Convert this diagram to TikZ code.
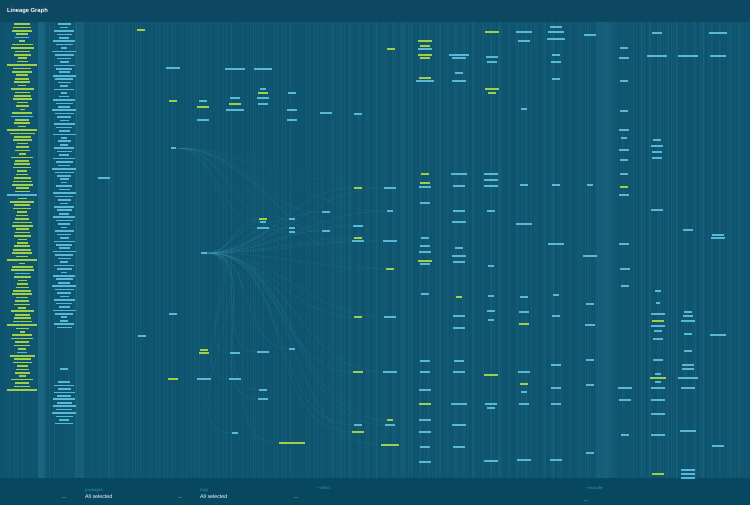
\documentclass[tikz,border=0pt]{standalone}
\usepackage{fontspec}
\setmainfont{Liberation Sans}
\usetikzlibrary{positioning}
\definecolor{hdrbg}{RGB}{12,72,97}
\definecolor{graphbg}{RGB}{15,84,110}
\definecolor{footbg}{RGB}{8,71,96}
\definecolor{barc}{RGB}{88,184,216}
\definecolor{barg}{RGB}{160,206,70}
\definecolor{streakc}{RGB}{70,170,200}
\definecolor{dimtext}{RGB}{45,150,180}
\pgfdeclarelayer{bg}
\pgfsetlayers{bg,main}

\begin{document}
\begin{tikzpicture}[x=1pt, y=-1pt,
    bar/.style={rectangle, inner sep=0pt, minimum height=1.6pt},
    edge/.style={draw=streakc, line width=0.4pt, opacity=0.18},
    streak/.style={draw=streakc, line width=0.45pt},
    title/.style={font=\fontsize{5.8}{7}\selectfont\bfseries, text=white, anchor=west, inner sep=0pt},
    fltlabel/.style={font=\fontsize{4.2}{5}\selectfont, text=dimtext, inner sep=0pt},
    fltvalue/.style={font=\fontsize{5.3}{6}\selectfont, text=white, anchor=west, inner sep=0pt},
    caret/.style={draw=dimtext, line width=0.5pt, opacity=0.6}
]
    \useasboundingbox (0,0) rectangle (750,505);

    \node[title] (ttl) at (7,11) {Lineage Graph};

    % left columns (sources)
    \foreach \i in {0,...,107} {
        \pgfmathsetmacro\py{24+3.42*\i}
        \pgfmathtruncatemacro\pw{5+mod(\i*37+11,13)+2*mod(\i*7,5)}
        \pgfmathtruncatemacro\pr{mod(\i,23)}
        \pgfmathtruncatemacro\pq{mod(\i,19)}
        \ifnum\pq=12 \def\pw{30}\fi
        \ifnum\pr=4 \def\pc{c}\else\def\pc{g}\fi
        \node[bar, fill=bar\pc, minimum width=\pw pt] (a\i) at (22,\py) {};
    }
    \foreach \i in {0,...,88} {
        \pgfmathsetmacro\py{24+3.45*\i}
        \pgfmathtruncatemacro\pw{8+mod(\i*29+5,17)}
        \pgfmathtruncatemacro\pr{mod(\i,13)}
        \ifnum\pr=7 \def\pw{6}\fi
        \node[bar, fill=barc, minimum width=\pw pt] (b\i) at (64,\py) {};
    }
    \node[bar, fill=barc, minimum width=8pt] (b89) at (64,369) {};
    \foreach \i in {0,...,12} {
        \pgfmathsetmacro\py{382+3.45*\i}
        \pgfmathtruncatemacro\pw{10+mod(\i*23+2,15)}
        \node[bar, fill=barc, minimum width=\pw pt] (c\i) at (64,\py) {};
    }

    \node[bar, fill=barc, minimum width=6pt] (hub) at (204,253) {};
    \node[bar, fill=barc, minimum width=5pt] (src) at (173,148) {};

    % upper models
    \foreach \px/\py/\pw/\pc [count=\k] in {
        141/30/8/g, 173/68/14/c, 173/101/8/g, 104/178/12/c,
        203/101/8/c, 203/107/12/g, 203/120/12/c,
        235/69/20/c, 235/98/10/c, 235/104/12/g, 235/110/18/c,
        263/69/18/c, 263/89/6/c, 263/93/10/g, 263/98/12/c, 263/104/10/c,
        292/93/8/c, 292/110/10/c, 292/120/10/c, 326/113/12/c, 358/114/8/c,
        391/49/8/g,
        425/41/14/g, 425/46/10/g, 425/49/14/c, 425/55/14/g, 425/58/10/g, 425/78/12/g, 425/81/18/c,
        459/55/20/c, 459/58/14/c, 459/73/8/c, 459/81/14/c,
        492/32/14/g, 492/57/12/c, 492/62/10/c, 492/89/14/g, 492/93/8/g,
        524/32/16/c, 524/41/12/c, 524/109/6/c,
        556/27/12/c, 556/32/16/c, 556/39/18/c, 556/55/8/c, 556/62/10/c, 556/79/8/c,
        590/35/12/c,
        624/48/8/c, 624/58/10/c, 624/81/8/c, 624/111/8/c, 624/130/10/c, 624/138/6/c,
        624/150/10/c, 624/160/8/c, 624/174/8/c, 624/187/8/g, 624/195/10/c,
        657/33/10/c, 657/56/20/c, 657/140/8/c, 657/146/12/c, 657/152/10/c, 657/158/10/c, 657/210/12/c,
        688/56/20/c, 718/33/18/c, 718/56/16/c, 718/235/12/c, 718/238/14/c}
        \node[bar, fill=bar\pc, minimum width=\pw pt] (u\k) at (\px,\py) {};

    % children of hub
    \foreach \px/\py/\pw/\pc [count=\k] in {
        263/219/8/g, 263/222/6/c, 263/228/12/c, 292/219/6/c, 292/228/6/c, 292/232/6/c,
        326/212/8/c, 326/231/8/c,
        358/188/8/g, 358/226/10/c, 358/238/8/g, 358/241/12/c,
        390/188/12/c, 390/211/6/c, 390/241/14/c, 390/269/8/g,
        263/352/12/c, 263/390/8/c, 263/399/10/c, 292/349/6/c, 292/443/26/g,
        358/317/8/g, 358/372/10/g, 358/425/8/c, 358/432/12/g,
        390/317/12/c, 390/372/14/c, 390/420/6/g, 390/425/10/c, 390/445/18/g,
        235/353/10/c, 235/379/12/c, 235/433/6/c}
        \node[bar, fill=bar\pc, minimum width=\pw pt] (f\k) at (\px,\py) {};

    % lower and right models
    \foreach \px/\py/\pw/\pc [count=\k] in {
        142/336/8/c, 173/314/8/c, 173/379/10/g, 204/350/8/g, 204/353/10/g, 204/379/14/c,
        425/174/8/g, 425/183/10/g, 425/187/12/c, 425/203/10/c, 425/238/8/c, 425/246/10/c,
        425/252/12/c, 425/261/14/g, 425/264/10/c, 425/294/8/c,
        459/174/16/c, 459/186/12/c, 459/211/12/c, 459/222/14/c, 459/248/8/c, 459/256/14/c,
        459/262/12/c, 459/297/6/g, 459/316/12/c, 459/328/12/c,
        491/174/14/c, 491/180/14/c, 491/186/14/c, 491/211/8/c, 491/266/6/c, 491/296/6/c,
        491/311/8/c, 491/320/6/c,
        524/185/8/c, 524/224/16/c, 524/297/8/c, 524/312/10/c, 524/324/10/g,
        556/185/8/c, 556/244/16/c, 556/295/6/c, 556/316/8/c,
        590/185/6/c, 590/256/14/c, 590/304/8/c, 590/325/10/c,
        624/244/10/c, 625/269/10/c, 625/286/8/c, 688/230/10/c,
        425/361/10/c, 425/372/10/c, 425/390/12/c, 425/404/12/g, 425/420/12/c, 425/432/12/c,
        425/447/10/c, 425/462/12/c,
        459/361/10/c, 459/372/12/c, 459/404/16/c, 459/425/14/c, 459/447/12/c,
        491/375/14/g, 491/404/12/c, 491/408/8/c, 491/461/14/c,
        524/372/12/c, 524/384/8/g, 524/392/6/c, 524/404/10/c, 524/460/14/c,
        556/365/10/c, 556/388/10/c, 556/404/10/c, 556/460/12/c,
        590/360/8/c, 590/385/8/c, 590/453/8/c,
        625/388/14/c, 625/400/12/c, 625/435/8/c,
        658/291/6/c, 658/303/4/c, 658/314/14/c, 658/321/12/g, 658/326/14/c, 658/331/8/c,
        658/339/10/c, 658/360/10/c, 658/374/6/c, 658/378/16/g, 658/382/6/c, 658/388/14/c,
        658/400/14/c, 658/414/14/c, 658/435/14/c, 658/474/12/g,
        688/312/8/c, 688/316/10/c, 688/321/14/c, 688/334/8/c, 688/351/8/c, 688/365/12/c,
        688/369/12/c, 688/378/20/c, 688/388/14/c, 688/431/16/c, 688/470/14/c, 688/474/14/c,
        688/478/14/c,
        718/335/16/c, 718/446/12/c}
        \node[bar, fill=bar\pc, minimum width=\pw pt] (l\k) at (\px,\py) {};

    % filter bar
    \node[fltvalue] (pkgval) at (85,497) {All selected};
    \node[fltlabel, above=2.6pt of pkgval.north west, anchor=south west] (pkg) {packages};
    \node[fltvalue] (tagval) at (200,497) {All selected};
    \node[fltlabel, above=2.6pt of tagval.north west, anchor=south west] (tag) {tags};
    \node[fltlabel, anchor=west] (sel) at (316,488) {-{}-select};
    \node[fltlabel, anchor=west] (exc) at (585,488) {-{}-exclude};

    \begin{pgfonlayer}{bg}
        \fill[hdrbg] (0,0) rectangle (750,22);
        \fill[graphbg] (0,22) rectangle (750,478);
        \fill[footbg] (0,478) rectangle (750,505);

        \foreach \i in {1,...,220} {
            \pgfmathsetmacro\sx{mod(\i*67,745)+3}
            \pgfmathsetmacro\so{0.03+0.025*mod(\i,4)}
            \draw[streak, opacity=\so] (\sx,22) -- (\sx,478);
        }
        \foreach \i in {1,...,160} {
            \pgfmathsetmacro\sx{330+mod(\i*53,415)}
            \pgfmathsetmacro\so{0.03+0.025*mod(\i,3)}
            \draw[streak, opacity=\so] (\sx,22) -- (\sx,478);
        }
        \fill[streakc, opacity=0.18] (38,22) rectangle (45,478);
        \fill[streakc, opacity=0.12] (75,22) rectangle (84,478);
        \fill[streakc, opacity=0.06] (108,22) rectangle (113,478);
        \fill[streakc, opacity=0.09] (597,22) rectangle (612,478);

        \foreach \k in {1,...,33}
            \draw[edge] (hub.east) to[out=0, in=180] (f\k.west);
        \foreach \k in {1,...,16}
            \draw[edge, opacity=0.1] (src.east) to[out=0, in=180] (f\k.west);

        \draw[caret] (62,497) -- (66,497);
        \draw[caret] (178,497) -- (182,497);
        \draw[caret] (294,497) -- (298,497);
        \draw[caret] (584,500) -- (588,500);
    \end{pgfonlayer}
\end{tikzpicture}
\end{document}
